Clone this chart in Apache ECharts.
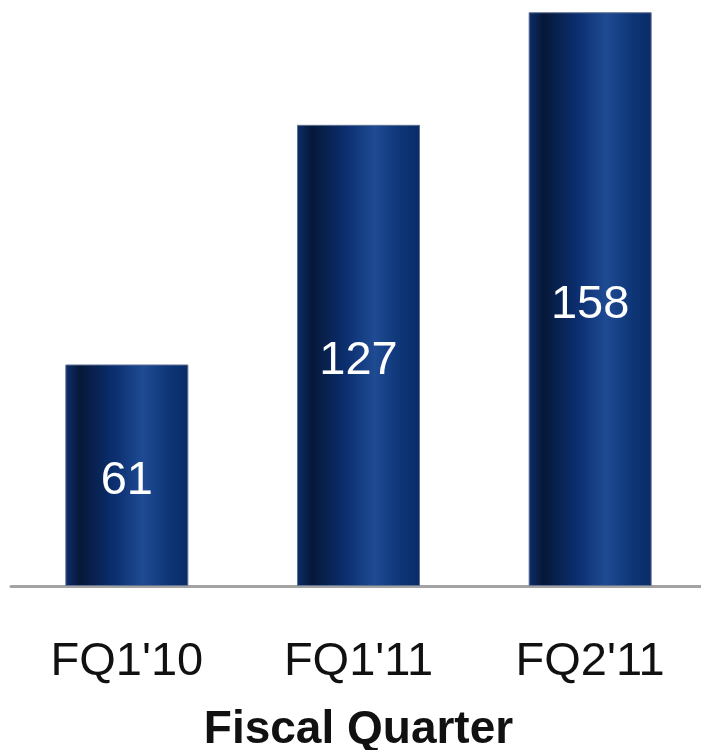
<!DOCTYPE html>
<html>
<head>
<meta charset="utf-8">
<script src="https://cdn.jsdelivr.net/npm/echarts@6/dist/echarts.min.js"></script>
<style>
  html, body { margin: 0; padding: 0; background: #ffffff; }
  #chart { width: 701px; height: 750px; }
</style>
</head>
<body>
<div id="chart"></div>
<script>
const categories = ["FQ1'10", "FQ1'11", "FQ2'11"];
const values = [61, 127, 158];
const axisTitle = "Fiscal Quarter";

const chart = echarts.init(document.getElementById('chart'), null, { renderer: 'canvas' });
const barGradient = new echarts.graphic.LinearGradient(0, 0, 1, 0, [
  { offset: 0.0, color: '#0d2d6b' },
  { offset: 0.12, color: '#061838' },
  { offset: 0.4, color: '#0b2f70' },
  { offset: 0.63, color: '#1f4b93' },
  { offset: 0.85, color: '#0d3576' },
  { offset: 1.0, color: '#0b2b66' }
]);
chart.setOption({
  animation: false,
  grid: { left: 11, width: 695, top: 5, height: 581, containLabel: false, outerBoundsMode: 'none' },
  xAxis: {
    type: 'category',
    data: categories,
    axisLine: { show: true, lineStyle: { color: '#a3a3a3', width: 3 } },
    axisTick: { show: false },
    axisLabel: {
      fontSize: 47, color: '#111111', fontFamily: 'Liberation Sans, Arial, sans-serif', margin: 53
    },
    name: axisTitle,
    nameLocation: 'middle',
    nameGap: 121,
    nameTextStyle: {
      fontSize: 46, fontWeight: 'bold', color: '#111111', fontFamily: 'Liberation Sans, Arial, sans-serif'
    }
  },
  yAxis: {
    type: 'value', min: 0, max: 160, show: false, splitLine: { show: false }
  },
  series: [{
    type: 'bar',
    data: values,
    barWidth: 123,
    z: 1,
    itemStyle: {
      color: barGradient,
      borderColor: '#5f7190',
      borderWidth: 1
    },
    label: {
      show: true,
      position: 'inside',
      offset: [0, 6],
      fontSize: 47,
      color: '#ffffff',
      fontFamily: 'Liberation Sans, Arial, sans-serif'
    }
  }]
});
</script>
</body>
</html>
